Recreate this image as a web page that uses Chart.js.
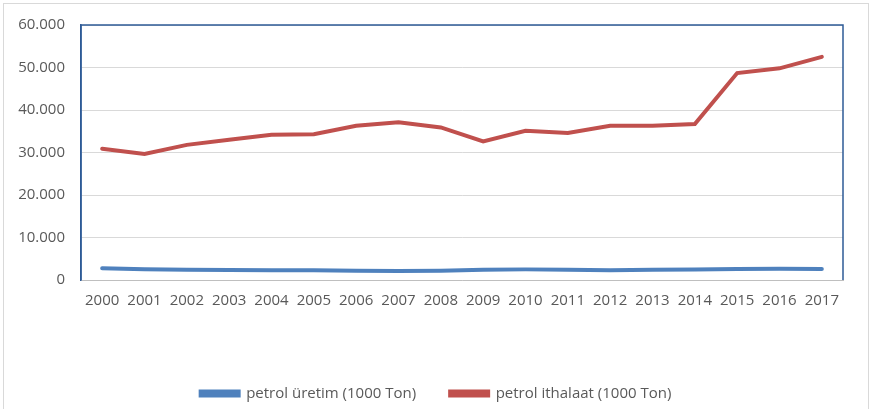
<!DOCTYPE html>
<html>
<head>
<meta charset="utf-8">
<script src="https://cdn.jsdelivr.net/npm/chart.js@4/dist/chart.umd.min.js"></script>
<style>
  body { margin: 0; background: #fff; }
  #wrap { position: relative; width: 872px; height: 409px; }
  #frame { position: absolute; left: 3px; top: 3px; width: 864px; height: 410px;
    border: 1px solid #d9d9d9; border-bottom: none; pointer-events: none; }
</style>
</head>
<body>
<div id="wrap">
  <canvas id="chart" width="872" height="409"></canvas>
  <div id="frame"></div>
</div>
<script>
const years = ['2000','2001','2002','2003','2004','2005','2006','2007','2008',
  '2009','2010','2011','2012','2013','2014','2015','2016','2017'];
const uretim = [2750, 2550, 2440, 2380, 2280, 2280, 2180, 2130, 2160,
  2400, 2500, 2390, 2320, 2390, 2450, 2560, 2630, 2590];
const ithalaat = [30900, 29650, 31800, 33000, 34200, 34300, 36300, 37100, 35900,
  32600, 35100, 34600, 36300, 36300, 36700, 48700, 49800, 52500];
const yTicks = [0, 10000, 20000, 30000, 40000, 50000, 60000];

function trNumber(v) {
  return String(v).replace(/\B(?=(\d{3})+(?!\d))/g, '.');
}

// koyu mavi çizim alanı çerçevesi (alt kenar hariç)
const plotBorder = {
  id: 'plotBorder',
  beforeDatasetsDraw(chart) {
    const a = chart.chartArea;
    const ctx = chart.ctx;
    ctx.save();
    ctx.strokeStyle = '#2e5b97';
    ctx.lineWidth = 1.5;
    ctx.beginPath();
    ctx.moveTo(a.left, a.bottom);
    ctx.lineTo(a.left, a.top);
    ctx.lineTo(a.right, a.top);
    ctx.lineTo(a.right, a.bottom);
    ctx.stroke();
    ctx.restore();
  }
};

Chart.defaults.font.family = '"Open Sans", sans-serif';
Chart.defaults.color = '#595959';

new Chart(document.getElementById('chart'), {
  type: 'line',
  data: {
    labels: years,
    datasets: [
      {
        label: 'petrol üretim (1000 Ton)',
        data: uretim,
        borderColor: '#4f81bd',
        backgroundColor: '#4f81bd',
        borderWidth: 4,
        pointRadius: 0,
        borderCapStyle: 'round',
        tension: 0
      },
      {
        label: 'petrol ithalaat (1000 Ton)',
        data: ithalaat,
        borderColor: '#c0504d',
        backgroundColor: '#c0504d',
        borderWidth: 4,
        pointRadius: 0,
        borderCapStyle: 'round',
        tension: 0
      }
    ]
  },
  options: {
    responsive: false,
    animation: false,
    layout: { padding: { left: 0, top: 22, right: 0, bottom: -2 } },
    plugins: {
      tooltip: { enabled: false },
      legend: {
        position: 'bottom',
        labels: {
          boxWidth: 38,
          boxHeight: 4,
          padding: 34,
          font: { size: 15 },
          color: '#595959'
        }
      }
    },
    scales: {
      x: {
        offset: true,
        grid: { display: false, drawTicks: false },
        border: { color: '#bfbfbf', width: 1 },
        ticks: { padding: 12, font: { size: 15 }, maxRotation: 0, autoSkip: false },
        afterFit(scale) { scale.height = 72; }
      },
      y: {
        min: 0,
        max: 60000,
        afterBuildTicks(scale) { scale.ticks = yTicks.map(v => ({ value: v })); },
        grid: { color: '#d9d9d9', drawTicks: false },
        border: { color: '#2e5b97', width: 1.5 },
        ticks: {
          padding: 16,
          font: { size: 15 },
          callback: v => trNumber(v)
        },
        afterFit(scale) { scale.width = 81; }
      },
      // sağ boşluk için boş eksen, lejant tüm genişlikte ortalansın
      yRight: {
        type: 'linear',
        position: 'right',
        grid: { display: false, drawTicks: false },
        border: { display: false },
        ticks: { display: false },
        afterFit(scale) { scale.width = 29; }
      }
    }
  },
  plugins: [plotBorder]
});
</script>
</body>
</html>
